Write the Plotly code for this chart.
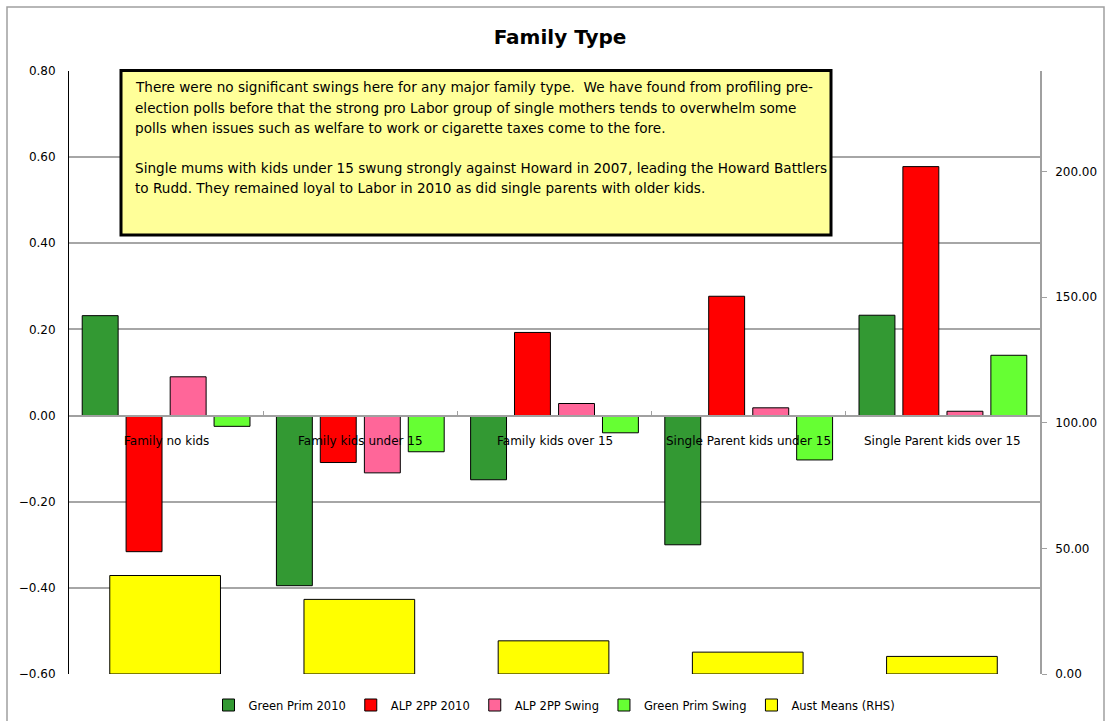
import plotly.graph_objects as go

# categories and series (left axis: share swings, right axis: Aust means)
categories = ["Family no kids", "Family kids under 15", "Family kids over 15",
              "Single Parent kids under 15", "Single Parent kids over 15"]
green_prim_2010 = [0.232, -0.395, -0.149, -0.300, 0.233]
alp_2pp_2010 = [-0.316, -0.109, 0.193, 0.277, 0.578]
alp_2pp_swing = [0.090, -0.133, 0.028, 0.018, 0.010]
green_prim_swing = [-0.025, -0.084, -0.040, -0.103, 0.140]
aust_means = [39.2, 29.7, 13.2, 8.7, 7.0]

note_lines = [
    "There were no significant swings here for any major family type.  We have found from profiling pre-",
    "election polls before that the strong pro Labor group of single mothers tends to overwhelm some",
    "polls when issues such as welfare to work or cigarette taxes come to the fore.",
    "Single mums with kids under 15 swung strongly against Howard in 2007, leading the Howard Battlers",
    "to Rudd. They remained loyal to Labor in 2010 as did single parents with older kids.",
]

FONT = "DejaVu Sans"

# plot area in pixels, used to place the text box
L, R, T, B = 69, 1040, 71, 674
def px(x): return (x - L) / (R - L)
def py(y): return (B - y) / (B - T)

fig = go.Figure()

series = [
    ("Green Prim 2010", green_prim_2010, "#339933", -0.432),
    ("ALP 2PP 2010", alp_2pp_2010, "#FF0000", -0.206),
    ("ALP 2PP Swing", alp_2pp_swing, "#FF6699", 0.021),
    ("Green Prim Swing", green_prim_swing, "#66FF33", 0.247),
]

# Aust means on the right axis, wide bars behind
fig.add_trace(go.Bar(x=categories, y=aust_means, name="Aust Means (RHS)", yaxis="y2",
                     offset=-0.29, width=0.57,
                     marker=dict(color="#FFFF00", line=dict(color="black", width=1))))

for name, vals, col, off in series:
    fig.add_trace(go.Bar(x=categories, y=vals, name=name, offset=off, width=0.185,
                         marker=dict(color=col, line=dict(color="black", width=1))))

# category labels sit along the zero line
for c in categories:
    fig.add_annotation(x=c, y=0, xref="x", yref="y", text=c, showarrow=False,
                       yshift=-25, font=dict(family=FONT, size=12, color="black"))

# yellow comment box
fig.add_shape(type="rect", xref="paper", yref="paper",
              x0=px(121), x1=px(831), y0=py(235), y1=py(70.5),
              line=dict(color="black", width=3), fillcolor="#FFFF99", layer="above")
for txt, yy in zip(note_lines, [86.7, 107.5, 128, 167.7, 188.3]):
    fig.add_annotation(x=px(133), y=py(yy), xref="paper", yref="paper", text=txt,
                       showarrow=False, xanchor="left", yanchor="middle",
                       font=dict(family=FONT, size=13.6, color="black"))

# outer chart border
fig.add_shape(type="rect", xref="paper", yref="paper",
              x0=px(7), x1=px(1104), y0=py(740), y1=py(7),
              line=dict(color="#a0a0a0", width=1.5), layer="below")

fig.update_layout(
    width=1111, height=721,
    margin=dict(l=L, r=1111 - R, t=T, b=721 - B, autoexpand=False),
    paper_bgcolor="white", plot_bgcolor="white",
    barmode="overlay",
    font=dict(family=FONT, size=12, color="black"),
    title=dict(text="<b>Family Type</b>", x=px(560), xref="paper", xanchor="center",
               y=1 - 37 / 721, yanchor="middle", font=dict(family=FONT, size=20)),
    legend=dict(orientation="h", x=0.5, xanchor="center", y=py(705), yanchor="middle",
                traceorder="normal", itemwidth=30, font=dict(family=FONT, size=11.5)),
    xaxis=dict(type="category", range=[-0.5, 4.5], anchor="free", position=0.6 / 1.4,
               showline=True, linecolor="#a0a0a0", linewidth=1.5,
               ticks="inside", ticklen=4, tickcolor="#a0a0a0", tickson="boundaries",
               showticklabels=False, showgrid=False),
    yaxis=dict(range=[-0.6, 0.8], dtick=0.2, tickformat=".2f", showgrid=True,
               gridcolor="#a6a6a6", gridwidth=1.5, zeroline=False,
               showline=True, linecolor="black", linewidth=1, ticks="",
               ticklabelstandoff=10),
    yaxis2=dict(overlaying="y", side="right", range=[0, 240], tickvals=[0, 50, 100, 150, 200],
                tickformat=".2f", showgrid=False, zeroline=False, showline=True,
                linecolor="#a0a0a0", linewidth=1.5, ticks="outside", ticklen=5,
                tickcolor="#a0a0a0", ticklabelstandoff=6),
)

# legend order as in the reference
order = ["Green Prim 2010", "ALP 2PP 2010", "ALP 2PP Swing", "Green Prim Swing", "Aust Means (RHS)"]
for t in fig.data:
    t.legendrank = order.index(t.name)

# drop the page's default body margin so the chart sits at the window corner
fig.write_html("out.html", config={"displayModeBar": False},
               post_script="document.body.style.margin='0';")
